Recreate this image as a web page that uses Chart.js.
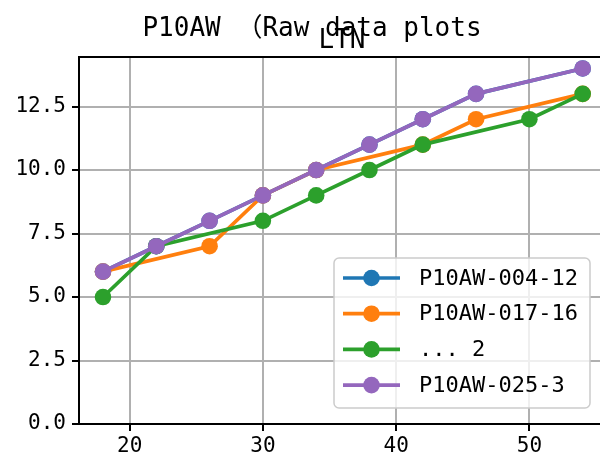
<!DOCTYPE html>
<html>
<head>
<meta charset="utf-8">
<script src="https://cdn.jsdelivr.net/npm/chart.js@4.4.1/dist/chart.umd.min.js"></script>
<style>
  html, body { margin: 0; padding: 0; background: #fff; }
  canvas { display: block; }
</style>
</head>
<body>
<canvas id="chart" width="600" height="464"></canvas>
<script>
// series
const seriesNames = ['P10AW-004-12', 'P10AW-017-16', '... 2', 'P10AW-025-3'];
const seriesColors = ['#1f77b4', '#ff7f0e', '#2ca02c', '#9467bd'];

const blueX = [18, 22, 26, 30, 34, 38, 42, 46, 54];
const blueY = [6, 7, 8, 9, 10, 11, 12, 13, 14];
const orangeX = [18, 26, 30, 34, 42, 46, 54];
const orangeY = [6, 7, 9, 10, 11, 12, 13];
const greenX = [18, 22, 30, 34, 38, 42, 50, 54];
const greenY = [5, 7, 8, 9, 10, 11, 12, 13];
const purpleX = [18, 22, 26, 30, 34, 38, 42, 46, 54];
const purpleY = [6, 7, 8, 9, 10, 11, 12, 13, 14];

const xTicks = [20, 30, 40, 50];
const yTicks = [0, 2.5, 5, 7.5, 10, 12.5];

const mainTitle = 'P10AW （Raw data plots';
const axesTitle = 'LTN';

const mono = '"DejaVu Sans Mono", "Noto Sans CJK SC", monospace';
const pts = (xs, ys) => xs.map((x, i) => ({ x: x, y: ys[i] }));

const seriesPoints = [pts(blueX, blueY), pts(orangeX, orangeY), pts(greenX, greenY), pts(purpleX, purpleY)];

let datasets = seriesPoints.map((data, i) => ({
  label: seriesNames[i],
  data: data,
  borderColor: seriesColors[i],
  backgroundColor: seriesColors[i],
  borderWidth: 3.7,
  pointRadius: 8.3,
  pointBorderWidth: 0,
  pointHoverRadius: 8.3,
  order: seriesPoints.length - i,   // later series on top, like matplotlib
  tension: 0
}));

// titles: suptitle and axes title overlap in the reference
const titlesPlugin = {
  id: 'titles',
  afterDraw(chart) {
    let ctx = chart.ctx;
    ctx.save();
    ctx.fillStyle = '#000';
    ctx.textAlign = 'center';
    ctx.textBaseline = 'alphabetic';
    ctx.font = '26px ' + mono;
    ctx.fillText(mainTitle, 312, 36);
    let area = chart.chartArea;
    ctx.fillText(axesTitle, 342, area.top - 9);
    ctx.restore();
  }
};

// top spine
const framePlugin = {
  id: 'frame',
  beforeDatasetsDraw(chart) {
    let { ctx, chartArea } = chart;
    ctx.save();
    ctx.strokeStyle = '#000';
    ctx.lineWidth = 2;
    ctx.beginPath();
    ctx.moveTo(chartArea.left, chartArea.top);
    ctx.lineTo(chartArea.right, chartArea.top);
    ctx.stroke();
    ctx.restore();
  }
};

// matplotlib-style legend, lower right inside the axes
const legendPlugin = {
  id: 'mplLegend',
  afterDraw(chart) {
    let ctx = chart.ctx;
    let box = { x: 334, y: 258, w: 256, h: 150, r: 5 };
    ctx.save();
    ctx.beginPath();
    ctx.roundRect(box.x, box.y, box.w, box.h, box.r);
    ctx.fillStyle = 'rgba(255,255,255,0.8)';
    ctx.fill();
    ctx.strokeStyle = '#cccccc';
    ctx.lineWidth = 1.5;
    ctx.stroke();

    ctx.font = '22px ' + mono;
    ctx.textBaseline = 'middle';
    ctx.textAlign = 'left';
    chart.data.datasets.forEach((ds, i) => {
      let cy = 278 + i * 35.7;
      ctx.strokeStyle = ds.borderColor;
      ctx.lineWidth = 3.7;
      ctx.beginPath();
      ctx.moveTo(343, cy);
      ctx.lineTo(400, cy);
      ctx.stroke();
      ctx.fillStyle = ds.backgroundColor;
      ctx.beginPath();
      ctx.arc(371.5, cy, 8.3, 0, Math.PI * 2);
      ctx.fill();
      ctx.fillStyle = '#000';
      ctx.fillText(ds.label, 419, cy + 1);
    });
    ctx.restore();
  }
};

let options = {
  responsive: false,
  animation: false,
  layout: { autoPadding: false, padding: { top: 57, left: 0, right: 0, bottom: 0 } },
  plugins: {
    legend: { display: false },
    tooltip: { enabled: false },
    title: { display: false }
  },
  scales: {
    x: {
      type: 'linear',
      min: 16.2,
      max: 55.3,
      afterBuildTicks: (scale) => { scale.ticks = xTicks.map(v => ({ value: v })); },
      afterFit: (scale) => {
        scale.height = 40;
        scale.paddingLeft = 0;
        scale.paddingRight = 0;
      },
      grid: { color: '#b0b0b0', lineWidth: 2, tickColor: '#000', tickLength: 7, tickWidth: 2 },
      border: { color: '#000', width: 2 },
      ticks: {
        color: '#000',
        padding: 3,
        maxRotation: 0,
        font: { family: mono, size: 21 },
        callback: (v) => String(v)
      }
    },
    y: {
      type: 'linear',
      min: 0,
      max: 14.45,
      afterBuildTicks: (scale) => { scale.ticks = yTicks.map(v => ({ value: v })); },
      afterFit: (scale) => {
        scale.width = 79;
        scale.paddingTop = 0;
        scale.paddingBottom = 0;
      },
      grid: { color: '#b0b0b0', lineWidth: 2, tickColor: '#000', tickLength: 7, tickWidth: 2 },
      border: { color: '#000', width: 2 },
      ticks: {
        color: '#000',
        padding: 6,
        font: { family: mono, size: 21 },
        callback: (v) => v.toFixed(1)
      }
    }
  }
};

new Chart('chart', {
  type: 'line',
  data: { datasets: datasets },
  options: options,
  plugins: [framePlugin, titlesPlugin, legendPlugin]
});
</script>
</body>
</html>
